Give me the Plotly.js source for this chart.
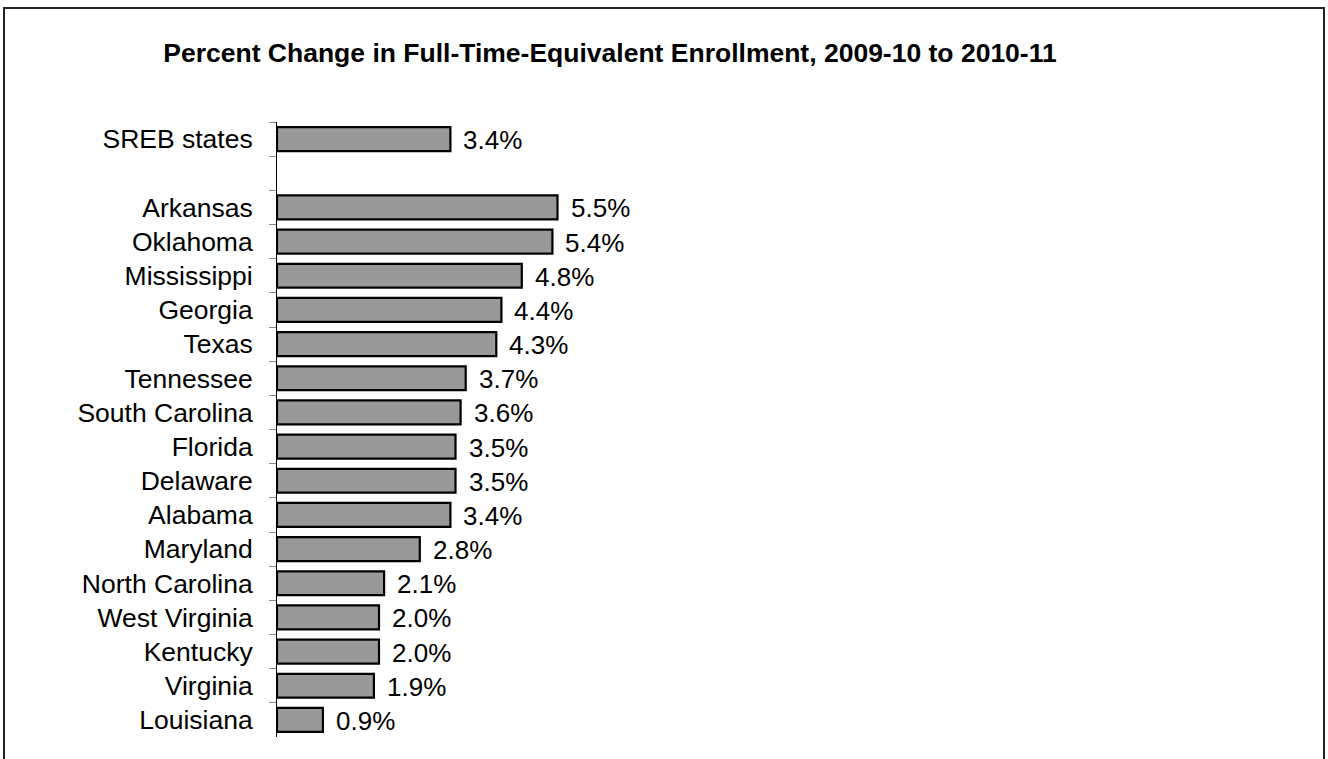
<!DOCTYPE html>
<html>
<head>
<meta charset="utf-8">
<script src="https://cdn.plot.ly/plotly-3.0.1.min.js"></script>
<style>
  html, body { margin: 0; padding: 0; overflow: hidden; background: #fff; }
  #chart { width: 1328px; height: 759px; }
  #frame { position: absolute; left: 3px; top: 7px; width: 1322px; height: 800px;
           border: 2px solid #222; box-sizing: border-box; pointer-events: none; }
</style>
</head>
<body>
<div id="chart"></div>
<div id="frame"></div>
<script>
const categories = ["SREB states", " ", "Arkansas", "Oklahoma", "Mississippi", "Georgia", "Texas",
  "Tennessee", "South Carolina", "Florida", "Delaware", "Alabama", "Maryland",
  "North Carolina", "West Virginia", "Kentucky", "Virginia", "Louisiana"];
const values = [3.4, null, 5.5, 5.4, 4.8, 4.4, 4.3, 3.7, 3.6, 3.5, 3.5, 3.4, 2.8, 2.1, 2.0, 2.0, 1.9, 0.9];
const chartTitle = "Percent Change in Full-Time-Equivalent Enrollment, 2009-10 to 2010-11";

const font = "Liberation Sans, Arial, sans-serif";

const trace = {
  type: "bar",
  orientation: "h",
  y: categories,
  x: values,
  marker: { color: "#999999", line: { color: "#000000", width: 2.2 } },
  hoverinfo: "skip"
};

const annotations = [];
categories.forEach((c, i) => {
  if (values[i] === null) return;
  annotations.push({
    x: values[i], y: c, xref: "x", yref: "y",
    text: values[i].toFixed(1) + "%",
    showarrow: false, xanchor: "left", yanchor: "middle", xshift: 11, yshift: -1,
    font: { family: font, size: 26, color: "#000" }
  });
});

const layout = {
  width: 1328, height: 759,
  margin: { l: 277, r: 31, t: 122, b: 22 },
  paper_bgcolor: "#fff", plot_bgcolor: "#fff",
  showlegend: false,
  bargap: 0.3,
  title: {
    text: "<b>" + chartTitle + "</b>",
    font: { family: font, size: 26.5, color: "#000" },
    xref: "container", x: 610 / 1328, xanchor: "center",
    yref: "container", y: 1 - 53 / 759, yanchor: "middle"
  },
  xaxis: { range: [0, 20], visible: false, showgrid: false, zeroline: false, fixedrange: true },
  yaxis: {
    type: "category",
    categoryorder: "array", categoryarray: categories,
    range: [categories.length - 0.5, -0.5],
    showline: true, linecolor: "#000", linewidth: 1,
    ticks: "outside", ticklen: 7, tickcolor: "#888", tickwidth: 1,
    tickson: "boundaries",
    ticklabelstandoff: 18,
    tickfont: { family: font, size: 26.5, color: "#000" },
    showgrid: false, zeroline: false, fixedrange: true
  },
  annotations: annotations
};

Plotly.newPlot("chart", [trace], layout, { displayModeBar: false, staticPlot: true });
</script>
</body>
</html>
